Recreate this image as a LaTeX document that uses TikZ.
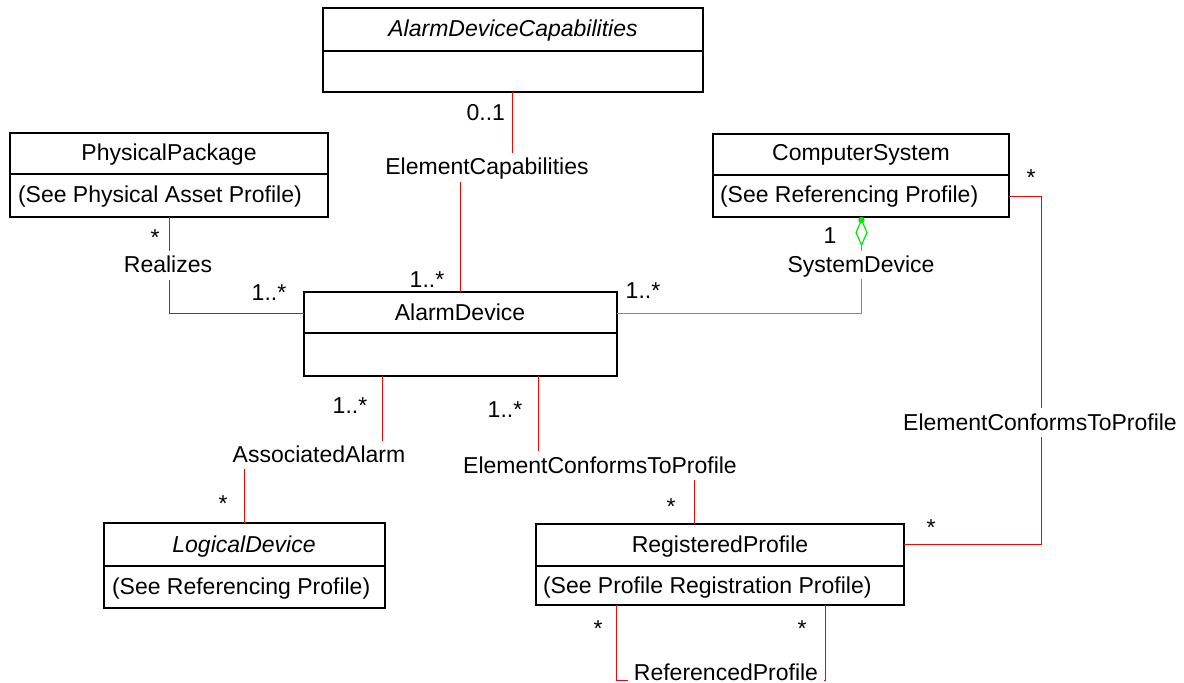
\documentclass[tikz,border=0pt]{standalone}
\usepackage{fontspec}
\setmainfont{Liberation Sans}
\definecolor{assocred}{RGB}{255,0,0}
\definecolor{agggreen}{RGB}{0,230,0}
\newcommand\umlbox[6]{%
  \node[box,minimum width=#4bp,minimum height=#5bp] (#1) at (#2,#3) {};
  \draw[line width=1.6bp] ([yshift=-#6bp]#1.north west) -- ([yshift=-#6bp]#1.north east);}
\begin{document}
\begin{tikzpicture}[x=1bp,y=-1bp,
  box/.style={draw=black,line width=1.6bp,fill=white,anchor=north west,inner sep=0pt,outer sep=0pt},
  txt/.style={inner sep=0pt,outer sep=0pt,anchor=base,font=\fontsize{23bp}{27bp}\selectfont},
  itxt/.style={txt,font=\fontsize{23bp}{27bp}\selectfont\itshape},
  attr/.style={txt,anchor=base west},
  assoc/.style={draw=assocred,line width=1.8bp},
  agg/.style={draw=agggreen,line width=1.8bp}]
\useasboundingbox (0,0) rectangle (1184,683);

% connector points
\coordinate (ec1) at (512.5,153);
\coordinate (ec2) at (460.5,182);
\coordinate (rz1) at (169.5,251);
\coordinate (rz2) at (169.5,280);
\coordinate (rz3) at (169.5,313.5);
\coordinate (sd0) at (861.5,220);
\coordinate (sd1) at (861.5,245);
\coordinate (sd2) at (861.5,251);
\coordinate (sd3) at (861.5,279);
\coordinate (sd4) at (861.5,313.5);
\coordinate (aa1) at (382.5,441);
\coordinate (aa2) at (244.5,469);
\coordinate (ct1) at (538.5,451);
\coordinate (ct2) at (694.5,480);
\coordinate (cr1) at (1041.5,196.5);
\coordinate (cr2) at (1041.5,408);
\coordinate (cr3) at (1041.5,437);
\coordinate (cr4) at (1041.5,544.5);
\coordinate (rf1) at (616.5,680.5);
\coordinate (rf2) at (628,680.5);
\coordinate (rf3) at (824,680.5);
\coordinate (rf4) at (825.5,680.5);

% classes
\umlbox{adc}{323}{8}{380}{84}{43}
\umlbox{pp}{10}{133}{318}{84}{41}
\umlbox{cs}{713}{134}{296}{83}{41}
\umlbox{ad}{304}{292}{313}{84}{41}
\umlbox{ld}{104}{523}{281}{85}{43}
\umlbox{rp}{536}{524}{368}{81}{42}

% connectors
\draw[assoc] (adc.south -| ec1) -- (ec1);
\draw[assoc] (ec2) -- (ad.north -| ec2);
\draw[assoc] (pp.south -| rz1) -- (rz1);
\draw[assoc] (ad.west |- rz3) -- (rz3) -- (rz2);
\draw[agg,line width=1.2bp] (sd0) -- ++(5.5,12.5) -- (sd1) -- ++(-5.5,-12.5) -- cycle;
\fill[agggreen] (sd0) circle (3.2);
\draw[agg] (sd1) -- (sd2);
\draw[agg] (ad.east |- sd4) -- (sd4) -- (sd3);
\draw[assoc] (ad.south -| aa1) -- (aa1);
\draw[assoc] (aa2) -- (ld.north -| aa2);
\draw[assoc] (ad.south -| ct1) -- (ct1);
\draw[assoc] (ct2) -- (rp.north -| ct2);
\draw[assoc] (cs.east |- cr1) -- (cr1) -- (cr2);
\draw[assoc] (cr3) -- (cr4) -- (rp.east |- cr4);
\draw[assoc] (rp.south -| rf1) -- (rf1) -- (rf2);
\draw[assoc] (rp.south -| rf4) -- (rf4) -- (rf3);

% class texts
\node[itxt] (adcn) at (513,37) {AlarmDeviceCapabilities};
\node[txt] (ppn) at (169,161) {PhysicalPackage};
\node[attr] (ppa) at (18,203) {(See Physical Asset Profile)};
\node[txt] (csn) at (861,161) {ComputerSystem};
\node[attr] (csa) at (720,203) {(See Referencing Profile)};
\node[txt] (adn) at (460,320) {AlarmDevice};
\node[itxt] (ldn) at (244,552) {LogicalDevice};
\node[attr] (lda) at (112,594) {(See Referencing Profile)};
\node[txt] (rpn) at (720,552) {RegisteredProfile};
\node[attr] (rpa) at (543,593) {(See Profile Registration Profile)};

% association labels
\node[txt] (ecl) at (487,175) {ElementCapabilities};
\node[txt,anchor=base east] (m01) at (505,121) {0..1};
\node[txt] (m1a) at (427,287) {1..*};
\node[txt] (rzl) at (168,272) {Realizes};
\node[txt] (m2a) at (155,245) {*};
\node[txt] (m2b) at (269,300) {1..*};
\node[txt] (sdl) at (861,272) {SystemDevice};
\node[txt] (m3a) at (830,243) {1};
\node[txt] (m3b) at (643,298) {1..*};
\node[txt] (aal) at (319,462) {AssociatedAlarm};
\node[txt] (m4a) at (350,413) {1..*};
\node[txt] (m4b) at (223,511) {*};
\node[txt] (ectl) at (600,473) {ElementConformsToProfile};
\node[txt] (m5a) at (505,417) {1..*};
\node[txt] (m5b) at (671,514) {*};
\node[txt] (ectr) at (1040,430) {ElementConformsToProfile};
\node[txt] (m6a) at (1031,186) {*};
\node[txt] (m6b) at (931,535) {*};
\node[txt] (rfl) at (726,680) {ReferencedProfile};
\node[txt] (m7a) at (598,636) {*};
\node[txt] (m7b) at (802,636) {*};
\end{tikzpicture}
\end{document}
